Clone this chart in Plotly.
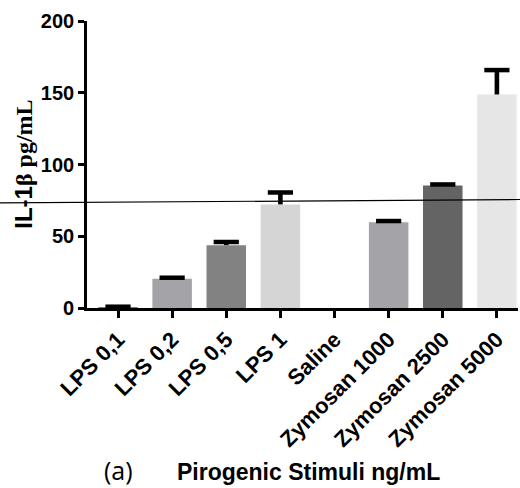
import plotly.graph_objects as go

# IL-1β release per pyrogenic stimulus
categories = ["LPS 0,1", "LPS 0,2", "LPS 0,5", "LPS 1", "Saline",
              "Zymosan 1000", "Zymosan 2500", "Zymosan 5000"]
il1b_mean = [0.5, 20.3, 43.8, 72.2, 0, 59.8, 85.3, 148.8]
il1b_sem = [0.4, 0.8, 2.2, 8.3, None, 0.8, 0.8, 17.0]
bar_colors = ["#7a7a7a", "#a4a3a8", "#828282", "#d5d5d5", "#ffffff",
              "#a4a3a8", "#646464", "#e6e6e6"]

# reference (cut-off) line: value at left and right edge
cutoff_start = 73.2
cutoff_end = 75.6

y_ticks = [0, 50, 100, 150, 200]

SANS = "Liberation Sans"
SERIF = "Liberation Serif"

# only categories that carry an error value get an upward error bar
err_cats = [c for c, s in zip(categories, il1b_sem) if s is not None]
err_base = [m for m, s in zip(il1b_mean, il1b_sem) if s is not None]
err_len = [s for s in il1b_sem if s is not None]
err_top = [b + e for b, e in zip(err_base, err_len)]

fig = go.Figure()
fig.add_trace(go.Bar(
    x=categories,
    y=il1b_mean,
    width=0.73,
    marker=dict(color=bar_colors, line=dict(width=0)),
    hoverinfo="x+y",
))
# error stems (upper half only)
fig.add_trace(go.Bar(
    x=err_cats,
    y=err_len,
    base=err_base,
    width=0.085,
    marker=dict(color="black", line=dict(width=0)),
    hoverinfo="skip",
))
# error caps
fig.add_trace(go.Scatter(
    x=err_cats,
    y=err_top,
    mode="markers",
    marker=dict(symbol="line-ew", size=18,
                line=dict(color="black", width=4.5)),
    hoverinfo="skip",
    cliponaxis=False,
))

fig.add_shape(type="line", xref="paper", yref="y",
              x0=-0.202, x1=1.005, y0=cutoff_start, y1=cutoff_end,
              line=dict(color="black", width=1.2), layer="above")

fig.update_layout(
    width=520, height=488,
    margin=dict(l=87, r=2, t=21, b=180),
    plot_bgcolor="white", paper_bgcolor="white",
    showlegend=False,
    barmode="overlay",
    xaxis=dict(
        range=[-0.573, 7.39],
        showline=True, linecolor="black", linewidth=2.7,
        ticks="outside", ticklen=7, tickwidth=2.5, tickcolor="black",
        tickangle=-45,
        tickfont=dict(family=SANS, size=22, color="black", weight="bold"),
        showgrid=False, zeroline=False,
    ),
    yaxis=dict(
        range=[0, 200],
        tickvals=y_ticks,
        showline=True, linecolor="black", linewidth=2.7,
        ticks="outside", ticklen=6, tickwidth=2.5, tickcolor="black",
        tickfont=dict(family=SANS, size=20, color="black", weight="bold"),
        showgrid=False, zeroline=False,
    ),
    annotations=[
        dict(text="IL-1<span style=\"font-family:'" + SERIF + "'\">β pg/mL</span>",
             xref="paper", yref="paper", x=-0.148, y=0.5,
             textangle=-90, showarrow=False,
             xanchor="center", yanchor="middle",
             font=dict(family=SANS, size=24, color="black", weight="bold")),
        dict(text="Pirogenic Stimuli ng/mL",
             xref="paper", yref="paper", x=0.513, y=-0.571,
             showarrow=False, xanchor="center", yanchor="middle",
             font=dict(family=SANS, size=23, color="black", weight="bold")),
        dict(text="(a)",
             xref="paper", yref="paper", x=0.074, y=-0.565,
             showarrow=False, xanchor="center", yanchor="middle",
             font=dict(family="Open Sans", size=25, color="black")),
    ],
)

fig.write_html("out.html")
